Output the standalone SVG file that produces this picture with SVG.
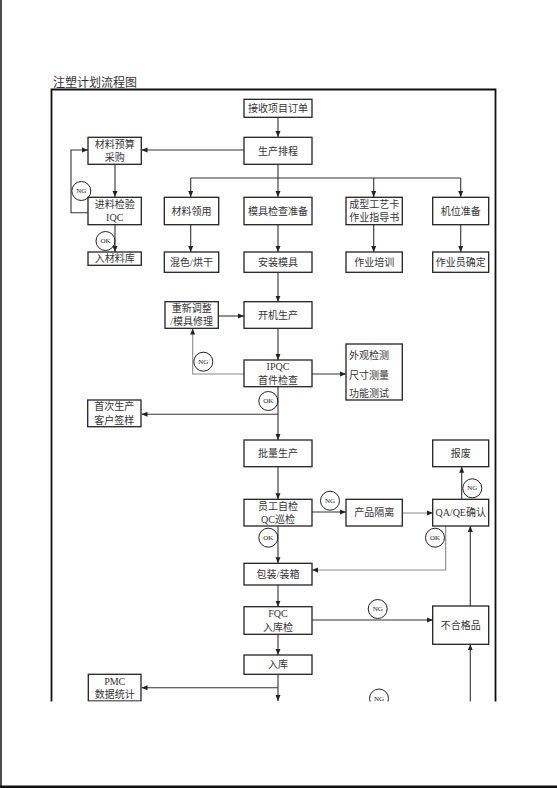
<svg xmlns="http://www.w3.org/2000/svg" width="557" height="788" viewBox="0 0 557 788">
<style>
.b{fill:#fff;stroke:#222;stroke-width:1.3}
.t{font-family:"Liberation Serif","Noto Sans CJK SC",serif;font-size:10px;fill:#333;text-anchor:middle;dominant-baseline:central}
.tl{text-anchor:start}
.c{fill:none;stroke:#222;stroke-width:1}
.ct{font-family:"Liberation Serif",serif;font-size:7px;fill:#222;text-anchor:middle;dominant-baseline:central}
.l{fill:none;stroke:#333;stroke-width:1.1}
.g{stroke:#888}
</style>
<defs>
<marker id="a" markerUnits="userSpaceOnUse" markerWidth="6" markerHeight="6" viewBox="0 0 6 6" refX="6" refY="3" orient="auto">
<path d="M0,0.5 L6,3 L0,5.5 z" fill="#222"/>
</marker>
<clipPath id="clip"><rect x="0" y="0" width="557" height="701.5"/></clipPath>
</defs>
<rect x="0" y="0" width="557" height="788" fill="#fff"/>
<line x1="1" y1="0" x2="1" y2="788" stroke="#111" stroke-width="1.5"/>
<rect x="0" y="785.5" width="557" height="2.5" fill="#111"/>
<text x="53" y="81" font-family="Noto Sans CJK SC, sans-serif" font-size="12" fill="#333" dominant-baseline="central">注塑计划流程图</text>
<g clip-path="url(#clip)">
<path d="M51.5,710 V89.5 H495.5 V710" fill="none" stroke="#111" stroke-width="1.8"/>
<g id="connectors">
<path class="l" d="M278,117 V137" marker-end="url(#a)"/>
<path class="l" d="M244,150 H141.5" marker-end="url(#a)"/>
<path class="l" d="M278,164.5 V197" marker-end="url(#a)"/>
<path class="l" d="M190.7,178 H460.7"/>
<path class="l" d="M190.7,178 V197" marker-end="url(#a)"/>
<path class="l" d="M373.7,178 V197" marker-end="url(#a)"/>
<path class="l" d="M460.7,178 V197" marker-end="url(#a)"/>
<path class="l" d="M115,164.5 V197" marker-end="url(#a)"/>
<path class="l" d="M88,212.7 H71 V150 H88" marker-end="url(#a)"/>
<path class="l" d="M115,225 V252" marker-end="url(#a)"/>
<path class="l" d="M190.7,225 V252" marker-end="url(#a)"/>
<path class="l" d="M278,225 V252" marker-end="url(#a)"/>
<path class="l" d="M373.7,225 V252" marker-end="url(#a)"/>
<path class="l" d="M460.7,225 V252" marker-end="url(#a)"/>
<path class="l" d="M278,272.5 V301.7" marker-end="url(#a)"/>
<path class="l" d="M218.3,316 H244" marker-end="url(#a)"/>
<path class="l" d="M278,328.5 V360" marker-end="url(#a)"/>
<path class="l g" d="M244,374 H192.7 V328.5" marker-end="url(#a)"/>
<path class="l" d="M312,374 H346" marker-end="url(#a)"/>
<path class="l" d="M278,386.7 V440" marker-end="url(#a)"/>
<path class="l" d="M278,414.3 H141.5" marker-end="url(#a)"/>
<path class="l" d="M278,466.7 V499.3" marker-end="url(#a)"/>
<path class="l" d="M312,512 H346" marker-end="url(#a)"/>
<path class="l g" d="M402.3,513 H433" marker-end="url(#a)"/>
<path class="l" d="M461.7,499.3 V466.7" marker-end="url(#a)"/>
<path class="l" d="M278,526 V563.3" marker-end="url(#a)"/>
<path class="l g" d="M445.7,526 V570 H312" marker-end="url(#a)"/>
<path class="l" d="M278,585 V606.7" marker-end="url(#a)"/>
<path class="l" d="M312,620 H433" marker-end="url(#a)"/>
<path class="l" d="M278,634.3 V655" marker-end="url(#a)"/>
<path class="l" d="M278,674.3 V701" marker-end="url(#a)"/>
<path class="l" d="M278,687.7 H141.5" marker-end="url(#a)"/>
<path class="l" d="M470.3,606 V526" marker-end="url(#a)"/>
<path class="l" d="M470.3,710 V644.3" marker-end="url(#a)"/>
</g>
<g id="labels">
<circle class="c" cx="81.3" cy="191" r="9.5"/><text class="ct" x="81.3" y="191">NG</text>
<circle class="c" cx="105.5" cy="241" r="9.5"/><text class="ct" x="105.5" y="241">OK</text>
<circle class="c" cx="203.3" cy="361.7" r="9.5"/><text class="ct" x="203.3" y="361.7">NG</text>
<circle class="c" cx="268.3" cy="401" r="9.5"/><text class="ct" x="268.3" y="401">OK</text>
<circle class="c" cx="330" cy="500.7" r="9.5"/><text class="ct" x="330" y="500.7">NG</text>
<circle class="c" cx="472.3" cy="488.3" r="9.5"/><text class="ct" x="472.3" y="488.3">NG</text>
<circle class="c" cx="268.3" cy="537.7" r="9.5"/><text class="ct" x="268.3" y="537.7">OK</text>
<circle class="c" cx="435" cy="537.7" r="9.5"/><text class="ct" x="435" y="537.7">OK</text>
<circle class="c" cx="377.7" cy="609" r="9.5"/><text class="ct" x="377.7" y="609">NG</text>
<circle class="c" cx="379" cy="698.5" r="9.5"/><text class="ct" x="379" y="698.5">NG</text>
</g>
<g id="n1"><rect class="b" x="244" y="99.3" width="68" height="18"/><text class="t" x="278" y="108.3">接收项目订单</text></g>
<g id="n2"><rect class="b" x="244" y="137.3" width="68" height="27"/><text class="t" x="278" y="151">生产排程</text></g>
<g id="n3"><rect class="b" x="88" y="137.3" width="53.3" height="27"/><text class="t" x="114.7" y="144.3">材料预算</text><text class="t" x="114.7" y="157.5">采购</text></g>
<g id="n4"><rect class="b" x="88" y="197.3" width="53.3" height="27.4"/><text class="t" x="114.7" y="204.3">进料检验</text><text class="t" x="114.7" y="217.7">IQC</text></g>
<g id="n5"><rect class="b" x="88" y="252" width="53.3" height="13.3"/><text class="t" x="114.7" y="258.7">入材料库</text></g>
<g id="n6"><rect class="b" x="164.3" y="197.3" width="54.4" height="27.4"/><text class="t" x="191.5" y="211">材料领用</text></g>
<g id="n7"><rect class="b" x="244" y="197.3" width="68" height="27.4"/><text class="t" x="278" y="211">模具检查准备</text></g>
<g id="n8"><rect class="b" x="346" y="197.3" width="56.3" height="27.4"/><text class="t" x="374.2" y="204.3">成型工艺卡</text><text class="t" x="374.2" y="217.7">作业指导书</text></g>
<g id="n9"><rect class="b" x="432.7" y="197.3" width="56" height="27.4"/><text class="t" x="460.7" y="211">机位准备</text></g>
<g id="n10"><rect class="b" x="164.3" y="252" width="54.4" height="20.3"/><text class="t" x="191.5" y="262.2">混色/烘干</text></g>
<g id="n11"><rect class="b" x="244" y="252" width="68" height="20.3"/><text class="t" x="278" y="262.2">安装模具</text></g>
<g id="n12"><rect class="b" x="346" y="252" width="56.3" height="20.3"/><text class="t" x="374.2" y="262.2">作业培训</text></g>
<g id="n13"><rect class="b" x="432.7" y="252" width="56" height="20.3"/><text class="t" x="460.7" y="262.2">作业员确定</text></g>
<g id="n14"><rect class="b" x="165" y="301.7" width="53.3" height="26.6"/><text class="t" x="191.7" y="308.5">重新调整</text><text class="t" x="191.7" y="321.7">/模具修理</text></g>
<g id="n15"><rect class="b" x="244" y="301.7" width="68" height="26.6"/><text class="t" x="278" y="315">开机生产</text></g>
<g id="n16"><rect class="b" x="244" y="360" width="68" height="26.7"/><text class="t" x="278" y="366.7">IPQC</text><text class="t" x="278" y="380">首件检查</text></g>
<g id="n17"><rect class="b" x="346" y="344" width="56.3" height="56"/><text class="t tl" x="349" y="355">外观检测</text><text class="t tl" x="349" y="375">尺寸测量</text><text class="t tl" x="349" y="393">功能测试</text></g>
<g id="n18"><rect class="b" x="87.7" y="400" width="53.3" height="26.7"/><text class="t" x="114.3" y="406.7">首次生产</text><text class="t" x="114.3" y="420">客户签样</text></g>
<g id="n19"><rect class="b" x="244" y="440" width="68" height="26.7"/><text class="t" x="278" y="453.3">批量生产</text></g>
<g id="n20"><rect class="b" x="432.7" y="440" width="56" height="26.7"/><text class="t" x="460.7" y="453.3">报废</text></g>
<g id="n21"><rect class="b" x="244" y="499.3" width="68" height="26.7"/><text class="t" x="278" y="506">员工自检</text><text class="t" x="278" y="519.3">QC巡检</text></g>
<g id="n22"><rect class="b" x="346" y="499.3" width="56.3" height="26.7"/><text class="t" x="374.2" y="512.7">产品隔离</text></g>
<g id="n23"><rect class="b" x="432.7" y="499.3" width="56" height="26.7"/><text class="t" x="460.7" y="512.7">QA/QE确认</text></g>
<g id="n24"><rect class="b" x="244" y="563.3" width="68" height="21.7"/><text class="t" x="278" y="574.2">包装/装箱</text></g>
<g id="n25"><rect class="b" x="244" y="606.7" width="68" height="27.6"/><text class="t" x="278" y="613.8">FQC</text><text class="t" x="278" y="627.2">入库检</text></g>
<g id="n26"><rect class="b" x="432.7" y="606" width="56" height="38.3"/><text class="t" x="460.7" y="625.2">不合格品</text></g>
<g id="n27"><rect class="b" x="244" y="655" width="68" height="19.3"/><text class="t" x="278" y="664.7">入库</text></g>
<g id="n28"><rect class="b" x="88.3" y="674.3" width="52.7" height="26.7"/><text class="t" x="114.7" y="681">PMC</text><text class="t" x="114.7" y="694.3">数据统计</text></g>
</g>
</svg>
